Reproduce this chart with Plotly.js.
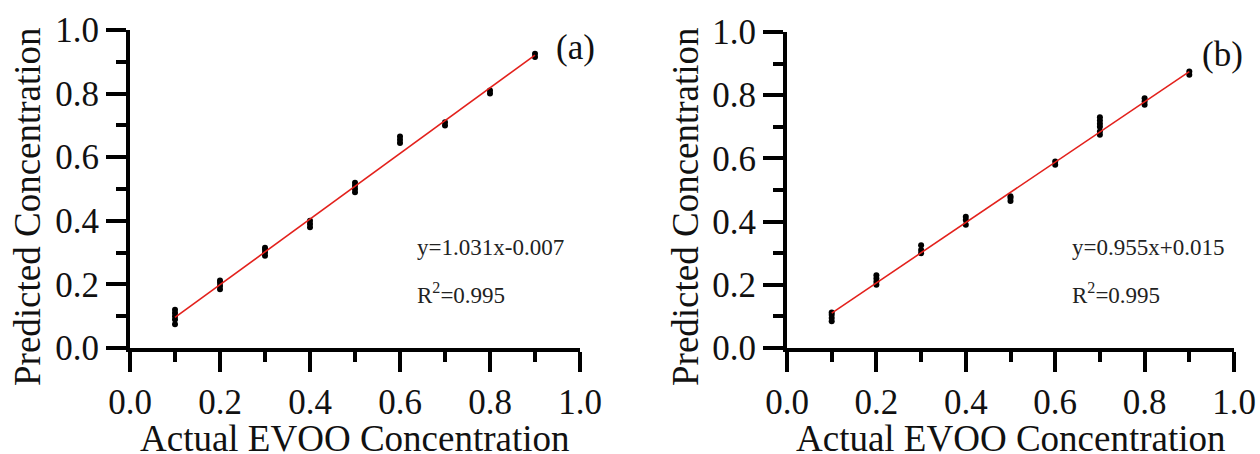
<!DOCTYPE html>
<html>
<head>
<meta charset="utf-8">
<script src="https://cdn.plot.ly/plotly-3.0.1.min.js"></script>
<style>html,body{margin:0;padding:0;background:#fff;}#chart{width:1260px;height:454px;}</style>
</head>
<body>
<div id="chart"></div>
<script>
// ---- data ----
const actualLevels = [0.1, 0.2, 0.3, 0.4, 0.5, 0.6, 0.7, 0.8, 0.9];

// Panel (a): predicted replicates at each actual level
const predictedA = [
  [0.075, 0.09, 0.10, 0.11, 0.12],
  [0.185, 0.195, 0.205, 0.212],
  [0.29, 0.30, 0.31, 0.315],
  [0.38, 0.39, 0.40],
  [0.49, 0.50, 0.51, 0.52],
  [0.645, 0.655, 0.665],
  [0.70, 0.71],
  [0.80, 0.81],
  [0.915, 0.925]
];
// Panel (b)
const predictedB = [
  [0.085, 0.095, 0.105, 0.112],
  [0.20, 0.21, 0.22, 0.23],
  [0.30, 0.31, 0.325],
  [0.39, 0.405, 0.415],
  [0.465, 0.475, 0.48],
  [0.58, 0.59],
  [0.675, 0.685, 0.70, 0.71, 0.72, 0.73],
  [0.77, 0.78, 0.79],
  [0.865, 0.875]
];

// fitted regression lines (end points)
const fitXA = [0.1, 0.9], fitYA = [0.096, 0.921];
const fitXB = [0.1, 0.9], fitYB = [0.1105, 0.8745];

const tickVals = [0, 0.2, 0.4, 0.6, 0.8, 1.0];
const tickText = ["0.0", "0.2", "0.4", "0.6", "0.8", "1.0"];

const labelA = "(a)", labelB = "(b)";
const eqA = "y=1.031x-0.007", eqB = "y=0.955x+0.015";
const r2A = "R<sup>2</sup>=0.995", r2B = "R<sup>2</sup>=0.995";
const xTitle = "Actual EVOO Concentration";
const yTitle = "Predicted Concentration";

// ---- build ----
function flatten(levels, groups) {
  const xs = [], ys = [];
  groups.forEach((g, i) => g.forEach(v => { xs.push(levels[i]); ys.push(v); }));
  return {xs, ys};
}
const A = flatten(actualLevels, predictedA);
const B = flatten(actualLevels, predictedB);

const FONT = "Liberation Serif";
const W = 1260, H = 454;

const marker = {color: '#000', size: 6, symbol: 'circle'};
const lineStyle = {color: '#e3211c', width: 1.6};

const traces = [
  {x: A.xs, y: A.ys, type: 'scatter', mode: 'markers', marker: marker, xaxis: 'x', yaxis: 'y', cliponaxis: false},
  {x: fitXA, y: fitYA, type: 'scatter', mode: 'lines', line: lineStyle, xaxis: 'x', yaxis: 'y'},
  {x: B.xs, y: B.ys, type: 'scatter', mode: 'markers', marker: marker, xaxis: 'x2', yaxis: 'y2', cliponaxis: false},
  {x: fitXB, y: fitYB, type: 'scatter', mode: 'lines', line: lineStyle, xaxis: 'x2', yaxis: 'y2'}
];

function axis(domain, anchor) {
  return {
    domain: domain, anchor: anchor, range: [0, 1],
    showline: true, linecolor: '#000', linewidth: 4,
    showgrid: false, zeroline: false,
    ticks: 'outside', ticklen: 20, tickwidth: 4, tickcolor: '#000',
    tickvals: tickVals, ticktext: tickText,
    minor: {ticks: 'outside', ticklen: 10, tickwidth: 4, tickcolor: '#000', dtick: 0.1, tick0: 0, showgrid: false},
    tickfont: {family: FONT, size: 35, color: '#111'},
    automargin: false, fixedrange: true
  };
}

const yDomA = [1 - 348 / H, 1 - 30 / H];
const yDomB = [1 - 348 / H, 1 - 32 / H];

function note(text, px, py, size, extra) {
  return Object.assign({
    text: text, xref: 'paper', yref: 'paper', x: px / W, y: 1 - py / H,
    xanchor: 'center', yanchor: 'middle', showarrow: false,
    font: {family: FONT, size: size, color: '#111'}
  }, extra || {});
}

const layout = {
  width: W, height: H,
  margin: {l: 0, r: 0, t: 0, b: 0},
  paper_bgcolor: '#fff', plot_bgcolor: '#fff',
  showlegend: false,
  font: {family: FONT, color: '#111'},
  xaxis: axis([130 / W, 580 / W], 'y'),
  yaxis: axis(yDomA, 'x'),
  xaxis2: axis([787 / W, 1234 / W], 'y2'),
  yaxis2: axis(yDomB, 'x2'),
  annotations: [
    note(labelA, 575, 47, 35),
    note(labelB, 1222, 54, 35),
    note(eqA, 415, 247, 23, {xanchor: 'left', font: {family: FONT, size: 23, color: '#222'}}),
    note(r2A, 415, 293, 23, {xanchor: 'left', font: {family: FONT, size: 23, color: '#222'}}),
    note(eqB, 1070, 247, 23, {xanchor: 'left', font: {family: FONT, size: 23, color: '#222'}}),
    note(r2B, 1070, 293, 23, {xanchor: 'left', font: {family: FONT, size: 23, color: '#222'}}),
    note(xTitle, 355, 438, 37),
    note(xTitle, 1011, 438, 37),
    note(yTitle, 27, 207, 37, {textangle: -90}),
    note(yTitle, 685, 207, 37, {textangle: -90})
  ]
};

Plotly.newPlot('chart', traces, layout, {displayModeBar: false, staticPlot: true});
</script>
</body>
</html>
